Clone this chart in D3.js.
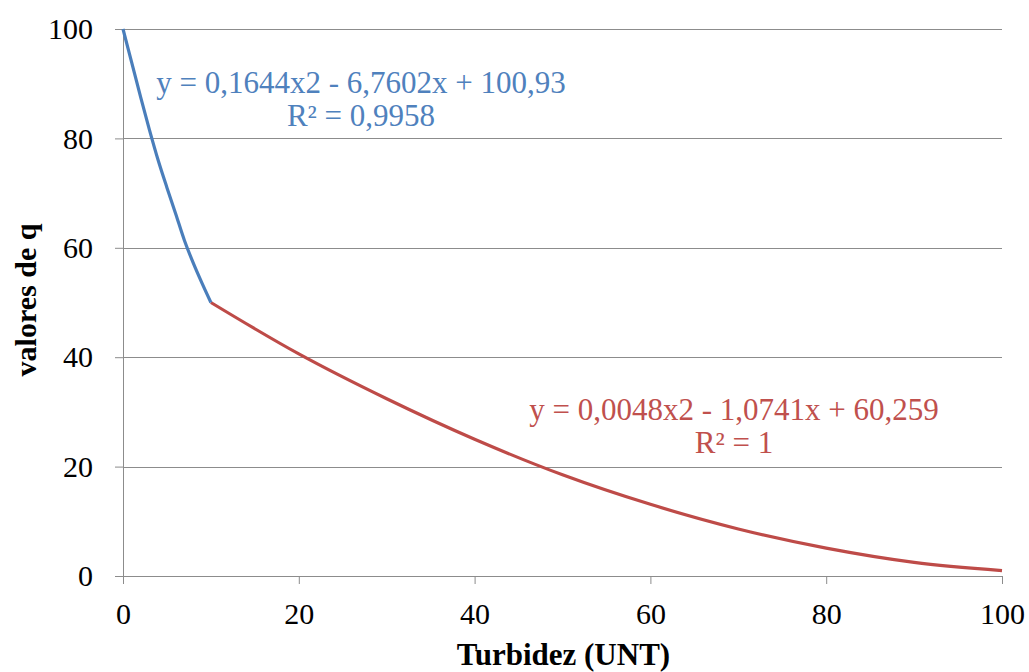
<!DOCTYPE html>
<html>
<head>
<meta charset="utf-8">
<script src="https://cdn.jsdelivr.net/npm/d3@7"></script>
<style>
  html, body { margin: 0; padding: 0; background: #fff; }
  svg { display: block; }
</style>
</head>
<body>
<div id="chart"></div>
<script>
// valores
var turbA = [0, 1, 2, 3, 4, 5, 6, 7, 8, 9, 10];
var qA = [100, 93.8, 87.6, 81.6, 76.0, 71.0, 66.2, 61.3, 57.2, 53.5, 50];
var turbB = [10, 20, 30, 40, 50, 60, 70, 80, 90, 100];
var qB = [50, 40.6, 32.4, 25.0, 18.5, 13.1, 8.6, 5.1, 2.5, 1.0];
var xTicks = [0, 20, 40, 60, 80, 100];
var yTicks = [0, 20, 40, 60, 80, 100];
var eqA = ["y = 0,1644x2  - 6,7602x + 100,93", "R² = 0,9958"];
var eqB = ["y = 0,0048x2  - 1,0741x + 60,259", "R² = 1"];

var FONT = "'Liberation Serif', 'Times New Roman', Times, serif";
var W = 1029, H = 672;
var margin = { left: 123, right: 27, top: 29, bottom: 96 };
var pw = W - margin.left - margin.right,
    ph = H - margin.top - margin.bottom;

var svg = d3.select("#chart").append("svg")
    .attr("width", W)
    .attr("height", H)
    .attr("font-family", FONT);

var g = svg.append("g")
    .attr("transform", "translate(" + margin.left + "," + margin.top + ")");

var x = d3.scaleLinear().domain([0, 100]).range([0, pw]);
var y = d3.scaleLinear().domain([0, 100]).range([ph, 0]);

// lignes de grille
g.append("g")
    .selectAll("line")
    .data(yTicks.filter(function (d) { return d > 0; }))
    .enter()
    .append("line")
    .attr("x1", 0)
    .attr("x2", pw)
    .attr("y1", function (d) { return Math.round(y(d)) + 0.5; })
    .attr("y2", function (d) { return Math.round(y(d)) + 0.5; })
    .attr("stroke", "#8c8c8c")
    .attr("stroke-width", 1);

var yAxis = g.append("g")
    .call(d3.axisLeft(y).tickValues(yTicks).tickSize(8).tickSizeOuter(0).tickPadding(22));

var xAxis = g.append("g")
    .attr("transform", "translate(0," + ph + ")")
    .call(d3.axisBottom(x).tickValues(xTicks).tickSize(8).tickSizeOuter(0).tickPadding(19));

[xAxis, yAxis].forEach(function (a) {
    a.attr("font-family", null).attr("font-size", null);
    a.selectAll("path, line").attr("stroke", "#8c8c8c");
    a.selectAll("text")
        .style("font-family", FONT)
        .style("font-size", "30px")
        .attr("fill", "#000");
});

// courbes
var line = d3.line()
    .x(function (d) { return x(d[0]); })
    .y(function (d) { return y(d[1]); })
    .curve(d3.curveCatmullRom);

g.append("path")
    .datum(turbB.map(function (t, i) { return [t, qB[i]]; }))
    .attr("d", line)
    .attr("fill", "none")
    .attr("stroke", "#be4b48")
    .attr("stroke-width", 3.2);

g.append("path")
    .datum(turbA.map(function (t, i) { return [t, qA[i]]; }))
    .attr("d", line)
    .attr("fill", "none")
    .attr("stroke", "#4a7ebb")
    .attr("stroke-width", 3.2);

// équations des tendances
function drawEq(lines, cx, y0, color) {
    svg.append("g")
        .selectAll("text")
        .data(lines)
        .enter()
        .append("text")
        .attr("x", cx)
        .attr("y", function (d, i) { return y0 + i * 33; })
        .attr("text-anchor", "middle")
        .style("font-family", FONT)
        .style("font-size", "31px")
        .attr("fill", color)
        .text(function (d) { return d; });
}
drawEq(eqA, 361, 93, "#4f81bd");
drawEq(eqB, 734, 420, "#c0504d");

// titres des axes
svg.append("text")
    .attr("x", margin.left + pw / 2 + 1)
    .attr("y", 665)
    .attr("text-anchor", "middle")
    .style("font-family", FONT)
    .style("font-size", "31px")
    .style("font-weight", "bold")
    .text("Turbidez (UNT)");

svg.append("text")
    .attr("transform", "translate(36,300) rotate(-90)")
    .attr("text-anchor", "middle")
    .style("font-family", FONT)
    .style("font-size", "30px")
    .style("font-weight", "bold")
    .text("valores de q");
</script>
</body>
</html>
